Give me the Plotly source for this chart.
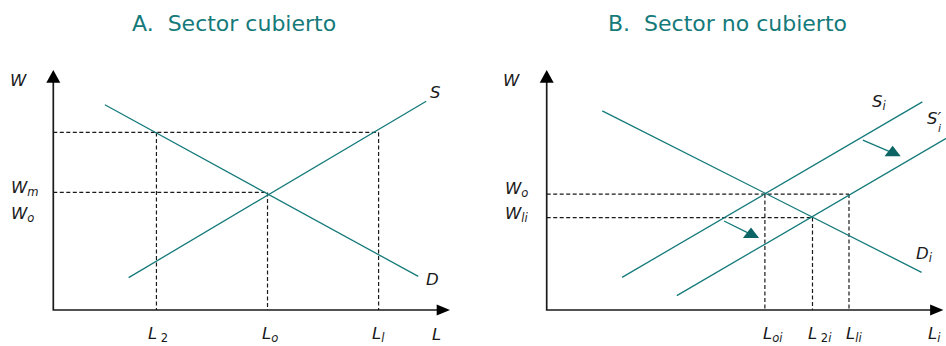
import plotly.graph_objects as go

# --- data (diagram units: L along x, W along y, axes run 0..100) ---
A_TITLE = "A.\u00a0 Sector cubierto"
A_D_L = [13, 92]          # demand D
A_D_W = [85.5, 14]
A_S_L = [19, 94]          # supply S
A_S_W = [13.5, 87]
A_W_MIN = 74              # minimum wage W_m
A_W_O = 49                # equilibrium wage W_o
A_L_O = 54
A_L_2 = 26
A_L_1 = 82

B_TITLE = "B.\u00a0 Sector no cubierto"
B_D_L = [14, 94.5]        # demand D_i
B_D_W = [83, 15.7]
B_S_L = [19, 94.7]        # supply S_i
B_S_W = [13.6, 86.7]
B_S2_L = [32.8, 100.7]    # shifted supply S'_i
B_S2_W = [6, 71.5]
B_W_O = 48.3
B_W_1 = 38.5
B_L_O = 55
B_L_2 = 67
B_L_1 = 76.2
B_SHIFT_L = [[79.7, 87.2], [44.7, 51.5]]   # shift arrows (start, head)
B_SHIFT_W = [[70.8, 65.5], [37.1, 31.5]]

AX_MAX = 100

# --- layout geometry ---
W_PX, H_PX = 946, 346
ORIGIN_PX = {"x": 53.3, "x2": 546.7}
ORIGIN_Y_PX = 310
PX_L = 3.967
PX_W = 2.4
SPLIT_PX = 473

TEAL = "#157a7a"
TEAL_DARK = "#0c6464"
INK = "#1a1a1a"
FONT = "DejaVu Sans"
LABEL_SIZE = 16.5

fig = go.Figure()


def line(xs, ys, xa, ya, color=TEAL, width=1.3, dash=None):
    fig.add_trace(go.Scatter(
        x=xs, y=ys, xaxis=xa, yaxis=ya, mode="lines",
        line=dict(color=color, width=width, dash=dash),
        hoverinfo="skip", showlegend=False,
    ))


def guides(pairs, xa, ya):
    # dashed drop lines from the (L, W) corners to the axes
    xs, ys = [], []
    for l_val, w_val, to_axis in pairs:
        if to_axis == "h":
            xs += [0, l_val, None]
            ys += [w_val, w_val, None]
        else:
            xs += [l_val, l_val, None]
            ys += [w_val, 0, None]
    line(xs, ys, xa, ya, color=INK, width=1.2, dash="4px,2.5px")


def axes(xa, ya):
    yref = "y" if xa == "x" else "y2"
    ah_w = 7 / PX_L
    ah_h = 12.7 / PX_W
    bh_w = 13.3 / PX_L
    bh_h = 5.5 / PX_W
    line([0, 0, AX_MAX - bh_w * 0.6], [AX_MAX - ah_h * 0.6, 0, 0], xa, ya,
         color=INK, width=1.7)
    fig.add_shape(type="path", xref=xa, yref=yref, line_width=0, fillcolor="black",
                  path=f"M {-ah_w},{AX_MAX - ah_h} L {ah_w},{AX_MAX - ah_h} L 0,{AX_MAX} Z")
    fig.add_shape(type="path", xref=xa, yref=yref, line_width=0, fillcolor="black",
                  path=f"M {AX_MAX - bh_w},{-bh_h} L {AX_MAX - bh_w},{bh_h} L {AX_MAX},0 Z")


def label(text, x, y, xa, size=LABEL_SIZE, xanchor="center"):
    yref = "y" if xa == "x" else "y2"
    fig.add_annotation(text=text, x=x, y=y, xref=xa, yref=yref, showarrow=False,
                       xanchor=xanchor, yanchor="middle",
                       font=dict(family=FONT, size=size, color=INK))


# panel A
guides([(A_L_1, A_W_MIN, "h"), (A_L_2, A_W_MIN, "v"), (A_L_1, A_W_MIN, "v"),
        (A_L_O, A_W_O, "h"), (A_L_O, A_W_O, "v")], "x", "y")
line(A_D_L, A_D_W, "x", "y")
line(A_S_L, A_S_W, "x", "y")
axes("x", "y")

# panel B
guides([(B_L_1, B_W_O, "h"), (B_L_O, B_W_O, "v"), (B_L_1, B_W_O, "v"),
        (B_L_2, B_W_1, "h"), (B_L_2, B_W_1, "v")], "x2", "y2")
line(B_D_L, B_D_W, "x2", "y2")
line(B_S_L, B_S_W, "x2", "y2")
line(B_S2_L, B_S2_W, "x2", "y2")
for ls, ws in zip(B_SHIFT_L, B_SHIFT_W):
    line(ls, ws, "x2", "y2", width=1.3)
    fig.add_trace(go.Scatter(
        x=[ls[-1]], y=[ws[-1]], xaxis="x2", yaxis="y2", mode="markers",
        marker=dict(symbol="triangle-up", size=14, color=TEAL_DARK, line_width=0),
        hoverinfo="skip", showlegend=False, cliponaxis=False,
    ))
axes("x2", "y2")

# labels panel A
label("<i>W</i>", -8.8, 95.6, "x")
label("<i>S</i>", 96.2, 90.8, "x")
label("<i>D</i>", 95.7, 12.9, "x")
label("<i>W</i><sub><i>m</i></sub>", -7.2, 50.6, "x")
label("<i>W</i><sub><i>o</i></sub>", -7.7, 40.0, "x")
label("<i>L</i><sub>\u00a02</sub>", 26.3, -10, "x")
label("<i>L</i><sub><i>o</i></sub>", 54.6, -10, "x")
label("<i>L</i><sub><i>l</i></sub>", 81.9, -10, "x")
label("<i>L</i>", 96.7, -10, "x")

# labels panel B
label("<i>W</i>", -8.8, 95.6, "x2")
label("<i>W</i><sub><i>o</i></sub>", -7.5, 50.4, "x2")
label("<i>W</i><sub><i>li</i></sub>", -7.5, 40.0, "x2")
label("<i>S</i><sub><i>i</i></sub>", 83.8, 86.3, "x2")
label("<i>S\u2032</i>", 97.6, 80.0, "x2")
label("<i>i</i>", 99.0, 75.8, "x2", size=11)
label("<i>D</i><sub><i>i</i></sub>", 95.2, 23.3, "x2")
label("<i>L</i><sub><i>oi</i></sub>", 57.0, -10, "x2")
label("<i>L</i><sub>\u00a02<i>i</i></sub>", 68.9, -10, "x2")
label("<i>L</i><sub><i>li</i></sub>", 77.5, -10, "x2")
label("<i>L</i><sub><i>i</i></sub>", 97.7, -10, "x2")

# titles
for title, cx in [(A_TITLE, 233.5), (B_TITLE, 727.5)]:
    fig.add_annotation(text=title, x=cx / W_PX, y=1 - 24 / H_PX, xref="paper", yref="paper",
                       showarrow=False, xanchor="center", yanchor="middle",
                       font=dict(family=FONT, size=22, color=TEAL))

y_range = [(ORIGIN_Y_PX - H_PX) / PX_W, ORIGIN_Y_PX / PX_W]
ax_common = dict(visible=False, showgrid=False, zeroline=False, fixedrange=True)
fig.update_layout(
    width=W_PX, height=H_PX, autosize=False,
    margin=dict(l=0, r=0, t=0, b=0),
    paper_bgcolor="white", plot_bgcolor="white",
    xaxis=dict(domain=[0, SPLIT_PX / W_PX], anchor="y",
               range=[-ORIGIN_PX["x"] / PX_L, (SPLIT_PX - ORIGIN_PX["x"]) / PX_L], **ax_common),
    yaxis=dict(domain=[0, 1], anchor="x", range=y_range, **ax_common),
    xaxis2=dict(domain=[SPLIT_PX / W_PX, 1], anchor="y2",
                range=[(SPLIT_PX - ORIGIN_PX["x2"]) / PX_L, (W_PX - ORIGIN_PX["x2"]) / PX_L],
                **ax_common),
    yaxis2=dict(domain=[0, 1], anchor="x2", range=y_range, **ax_common),
)

fig.write_html("out.html", config={"displayModeBar": False},
               post_script="document.body.style.margin='0';")
